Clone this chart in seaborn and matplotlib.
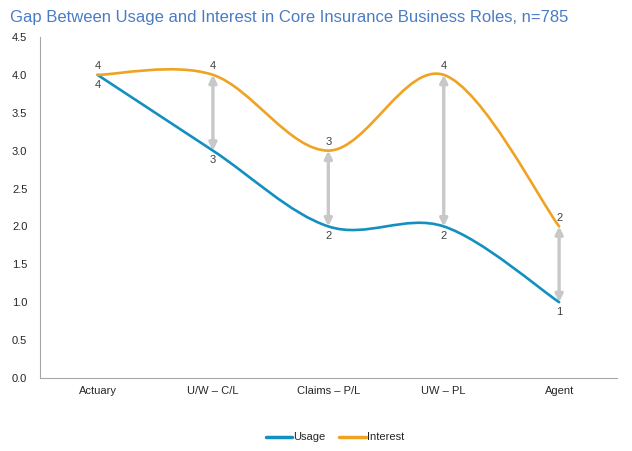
import numpy as np
import matplotlib
matplotlib.use("Agg")
import matplotlib.pyplot as plt
from matplotlib.path import Path
from matplotlib.patches import PathPatch
from matplotlib.lines import Line2D
import seaborn as sns

roles = ["Actuary", "U/W \u2013 C/L", "Claims \u2013 P/L", "UW \u2013 PL", "Agent"]
usage = [4, 3, 2, 2, 1]
interest = [4, 4, 3, 4, 2]

USAGE_COLOR = "#1390C0"
INTEREST_COLOR = "#F0A223"
ARROW_COLOR = "#C8C8C8"

sns.set_theme(style="white")
plt.rcParams["font.family"] = ["Liberation Sans", "DejaVu Sans"]


def smooth_path(xs, ys):
    # excel-style smoothed line: cubic bezier through every point
    pts = np.column_stack([xs, ys]).astype(float)
    verts = [pts[0]]
    codes = [Path.MOVETO]
    n = len(pts)
    for i in range(n - 1):
        p_prev = pts[i - 1] if i > 0 else pts[i]
        p_next2 = pts[i + 2] if i + 2 < n else pts[i + 1]
        c1 = pts[i] + (pts[i + 1] - p_prev) / 6
        c2 = pts[i + 1] - (p_next2 - pts[i]) / 6
        verts += [c1, c2, pts[i + 1]]
        codes += [Path.CURVE4] * 3
    return Path(verts, codes)


fig = plt.figure(figsize=(6.32, 4.51), dpi=100)
ax = fig.add_axes([0.063, 0.162, 0.913, 0.756])

x = np.arange(len(roles))
for vals, col in [(usage, USAGE_COLOR), (interest, INTEREST_COLOR)]:
    ax.add_patch(PathPatch(smooth_path(x, vals), fill=False, edgecolor=col, lw=1.9,
                           capstyle="round", joinstyle="round", zorder=3))

for i, (u, v) in enumerate(zip(usage, interest)):
    if v > u:
        ax.annotate("", xy=(i, v), xytext=(i, u),
                    arrowprops=dict(arrowstyle="<|-|>", color=ARROW_COLOR, lw=2.4,
                                    mutation_scale=11, shrinkA=0, shrinkB=0), zorder=2)
    ax.annotate(f"{v}", (i, v), xytext=(0, 2.5), textcoords="offset points",
                ha="center", va="bottom", fontsize=8, color="#404040")
    ax.annotate(f"{u}", (i, u), xytext=(0, -3.5), textcoords="offset points",
                ha="center", va="top", fontsize=8, color="#404040")

ax.set_xlim(-0.5, len(roles) - 0.5)
ax.set_ylim(0, 4.5)
ax.set_yticks(np.arange(0, 4.51, 0.5))
ax.set_yticklabels([f"{t:.1f}" for t in np.arange(0, 4.51, 0.5)])
ax.set_xticks(x)
ax.set_xticklabels(roles)
ax.tick_params(axis="both", length=0, labelsize=8, colors="#262626", pad=6)
ax.tick_params(axis="y", pad=9)
sns.despine(ax=ax)
for s in ["left", "bottom"]:
    ax.spines[s].set_color("#A6A6A6")
    ax.spines[s].set_linewidth(0.8)

handles = [Line2D([], [], color=USAGE_COLOR, lw=2.5), Line2D([], [], color=INTEREST_COLOR, lw=2.5)]
fig.legend(handles, ["Usage", "Interest"], loc="center", bbox_to_anchor=(0.53, 0.03), ncol=2,
           frameon=False, fontsize=8, handlelength=2.4, handletextpad=0.1, columnspacing=1.2)

fig.text(0.016, 0.962, "Gap Between Usage and Interest in Core Insurance Business Roles, n=785",
         fontsize=12, color="#4A7CC6", ha="left", va="center")

fig.savefig("out.png", dpi=100)
